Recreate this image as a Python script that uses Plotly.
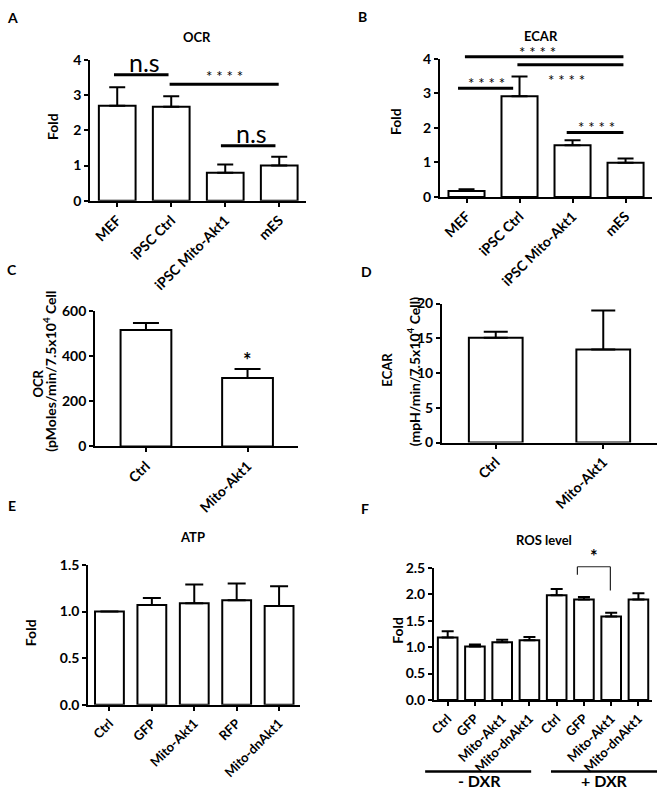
import plotly.graph_objects as go

W, H = 658, 797
FONT = "Lato, 'Open Sans', sans-serif"

# ---------------- data ----------------
a_cats = ["MEF", "iPSC Ctrl", "iPSC Mito-Akt1", "mES"]
a_vals = [2.70, 2.67, 0.80, 1.00]
a_err = [0.52, 0.30, 0.23, 0.25]

b_cats = ["MEF", "iPSC Ctrl", "iPSC Mito-Akt1", "mES"]
b_vals = [0.17, 2.92, 1.50, 0.99]
b_err = [0.05, 0.57, 0.14, 0.12]

c_cats = ["Ctrl", "Mito-Akt1"]
c_vals = [517, 304]
c_err = [31, 40]

d_cats = ["Ctrl", "Mito-Akt1"]
d_vals = [15.1, 13.4]
d_err = [0.85, 5.6]

e_cats = ["Ctrl", "GFP", "Mito-Akt1", "RFP", "Mito-dnAkt1"]
e_vals = [1.00, 1.07, 1.09, 1.12, 1.06]
e_err = [0.0, 0.075, 0.20, 0.18, 0.21]

f_cats = ["Ctrl", "GFP", "Mito-Akt1", "Mito-dnAkt1", "Ctrl", "GFP", "Mito-Akt1", "Mito-dnAkt1"]
f_vals = [1.18, 1.01, 1.09, 1.13, 1.98, 1.90, 1.58, 1.90]
f_err = [0.12, 0.04, 0.05, 0.06, 0.12, 0.05, 0.07, 0.12]

# significance bars: (x_from, x_to, level, label, label_x, label shift px)
a_sig = [(-0.06, 0.95, 3.58, "n.s", 0.51, 13),
         (0.97, 2.99, 3.31, "* * * *", 1.98, 8),
         (1.92, 2.93, 1.56, "n.s", 2.48, 13)]
b_sig = [(-0.03, 2.96, 4.06, "* * * *", 1.33, 5),
         (0.96, 2.96, 3.83, "* * * *", 1.89, -15),
         (-0.16, 0.88, 3.15, "* * * *", 0.38, 5),
         (1.89, 2.96, 1.87, "* * * *", 2.45, 5)]

panels = [
    dict(cats=a_cats, vals=a_vals, err=a_err, x=(85, 303), y=(52, 196), yr=(0, 4),
         tv=[0, 1, 2, 3, 4], tt=["0", "1", "2", "3", "4"], bw=0.68, cap=8, fs=14),
    dict(cats=b_cats, vals=b_vals, err=b_err, x=(438, 652), y=(51, 192), yr=(0, 4),
         tv=[0, 1, 2, 3, 4], tt=["0", "1", "2", "3", "4"], bw=0.68, cap=8, fs=14),
    dict(cats=c_cats, vals=c_vals, err=c_err, x=(90, 295), y=(309, 447), yr=(0, 600),
         tv=[0, 200, 400, 600], tt=["0", "200", "400", "600"], bw=0.5, cap=13, fs=14),
    dict(cats=d_cats, vals=d_vals, err=d_err, x=(440, 657), y=(301, 443), yr=(0, 20),
         tv=[0, 5, 10, 15, 20], tt=["0", "5", "10", "15", "20"], bw=0.5, cap=12, fs=14),
    dict(cats=e_cats, vals=e_vals, err=e_err, x=(83, 297), y=(568, 711), yr=(0, 1.5),
         tv=[0, 0.5, 1.0, 1.5], tt=["0.0", "0.5", "1.0", "1.5"], bw=0.68, cap=9, fs=13),
    dict(cats=f_cats, vals=f_vals, err=f_err, x=(432, 652), y=(571, 706), yr=(0, 2.5),
         tv=[0, 0.5, 1.0, 1.5, 2.0, 2.5], tt=["0.0", "0.5", "1.0", "1.5", "2.0", "2.5"], bw=0.72, cap=6, fs=13),
]

fig = go.Figure()
layout = dict(width=W, height=H, margin=dict(l=0, r=0, t=0, b=0),
              paper_bgcolor="white", plot_bgcolor="white", showlegend=False,
              font=dict(family=FONT, color="black"))
shapes = []
annotations = []


def px(x):
    return x / W


def py(y):
    return 1 - y / H


for i, p in enumerate(panels):
    k = "" if i == 0 else str(i + 1)
    n = len(p["cats"])
    xs = list(range(n))
    fig.add_trace(go.Bar(
        x=xs, y=p["vals"], width=p["bw"], xaxis="x" + k, yaxis="y" + k,
        marker=dict(color="white", line=dict(color="black", width=2)),
        error_y=dict(type="data", symmetric=False, array=p["err"], arrayminus=[0] * n,
                     color="black", thickness=2, width=p["cap"]),
        hoverinfo="skip"))
    layout["xaxis" + k] = dict(
        domain=[px(p["x"][0]), px(p["x"][1])], anchor="y" + k, range=[-0.5, n - 0.5],
        tickvals=xs, ticktext=p["cats"], tickangle=-45, showline=True, linecolor="black",
        linewidth=2, ticks="outside", ticklen=4, tickwidth=2, tickcolor="black",
        showgrid=False, zeroline=False, fixedrange=True,
        tickfont=dict(family=FONT, size=p["fs"], color="black", weight="bold"))
    layout["yaxis" + k] = dict(
        domain=[py(p["y"][1]), py(p["y"][0])], anchor="x" + k, range=list(p["yr"]),
        tickvals=p["tv"], ticktext=p["tt"], showline=True, linecolor="black",
        linewidth=2, ticks="outside", ticklen=4, tickwidth=2, tickcolor="black",
        showgrid=False, zeroline=False, fixedrange=True,
        tickfont=dict(family=FONT, size=14, color="black", weight="bold"))


def add_sig(k, n, ymax, sigs):
    for (x0, x1, lev, lab, lx, shift) in sigs:
        shapes.append(dict(type="line", xref="x%s domain" % k, yref="y%s domain" % k,
                           x0=(x0 + 0.5) / n, x1=(x1 + 0.5) / n, y0=lev / ymax, y1=lev / ymax,
                           line=dict(color="black", width=3)))
        big = lab == "n.s"
        annotations.append(dict(
            xref="x%s domain" % k, yref="y%s domain" % k, x=(lx + 0.5) / n, y=lev / ymax,
            text=lab, showarrow=False, xanchor="center", yanchor="middle", yshift=shift,
            font=dict(family=FONT, size=25 if big else 15, color="black")))


add_sig("", 4, 4, a_sig)
add_sig("2", 4, 4, b_sig)

# C: single star above Mito-Akt1
annotations.append(dict(xref="x3", yref="y3", x=1, y=c_vals[1] + c_err[1], text="<b>*</b>",
                        showarrow=False, xanchor="center", yanchor="middle", yshift=9,
                        font=dict(family=FONT, size=20, color="black")))

# F: bracket between GFP(+DXR) and Mito-Akt1(+DXR)
nF = len(f_cats)
fmax = 2.5
bl, br, btop = 4.76, 5.97, 2.52
for (x0, x1, y0, y1) in [(bl, bl, 2.37, btop), (bl, br, btop, btop), (br, br, btop, 2.07)]:
    shapes.append(dict(type="line", xref="x6 domain", yref="y6 domain",
                       x0=(x0 + 0.5) / nF, x1=(x1 + 0.5) / nF, y0=y0 / fmax, y1=y1 / fmax,
                       line=dict(color="#222", width=1.2)))
annotations.append(dict(xref="x6 domain", yref="y6 domain", x=((bl + br) / 2 + 0.5) / nF,
                        y=btop / fmax, text="<b>*</b>",
                        showarrow=False, xanchor="center", yanchor="middle", yshift=11,
                        font=dict(family=FONT, size=18, color="black")))

# F: group lines
groups = [("- DXR", 423, 530), ("+ DXR", 550, 657)]
for (lab, g0, g1) in groups:
    shapes.append(dict(type="line", xref="paper", yref="paper", x0=px(g0), x1=px(g1),
                       y0=py(779), y1=py(779), line=dict(color="black", width=2.5)))
    annotations.append(dict(xref="paper", yref="paper", x=px((g0 + g1) / 2 + 1), y=py(788),
                            text="<b>%s</b>" % lab, showarrow=False, xanchor="center",
                            yanchor="middle", font=dict(family=FONT, size=16, color="black")))

# titles, panel letters, y labels
texts = [
    ("A", 7, 9, 14, 0), ("B", 360, 8, 14, 0), ("C", 6, 266, 14, 0), ("D", 364, 268, 14, 0),
    ("E", 6, 507, 14, 0), ("F", 362, 510, 14, 0),
    ("OCR", 193, 29, 13, 0), ("ECAR", 540, 28, 13, 0), ("ATP", 188, 540, 13, 0),
    ("ROS level", 543, 543, 13, 0),
    ("Fold", 47, 120, 14, -90), ("Fold", 393, 115, 14, -90), ("Fold", 25, 637, 14, -90),
    ("Fold", 395, 635, 14, -90),
    ("OCR", 32, 383, 13, -90), ("(pMoles/min/7.5x10<sup>4</sup> Cell", 44, 370, 14, -90),
    ("ECAR", 385, 368, 13, -90), ("(mpH/min/7.5x10<sup>4</sup> Cell)", 411, 370, 14, -90),
]
for (t, x, y, s, ang) in texts:
    annotations.append(dict(xref="paper", yref="paper", x=px(x), y=py(y), text="<b>%s</b>" % t,
                            showarrow=False, xanchor="center", yanchor="middle", textangle=ang,
                            font=dict(family=FONT, size=s, color="black")))

layout["shapes"] = shapes
layout["annotations"] = annotations
fig.update_layout(**layout)
fig.write_html("out.html", config={"displayModeBar": False, "staticPlot": True},
               post_script="document.body.style.margin='0';document.body.style.padding='0';"
                           "document.documentElement.style.overflow='hidden';")
